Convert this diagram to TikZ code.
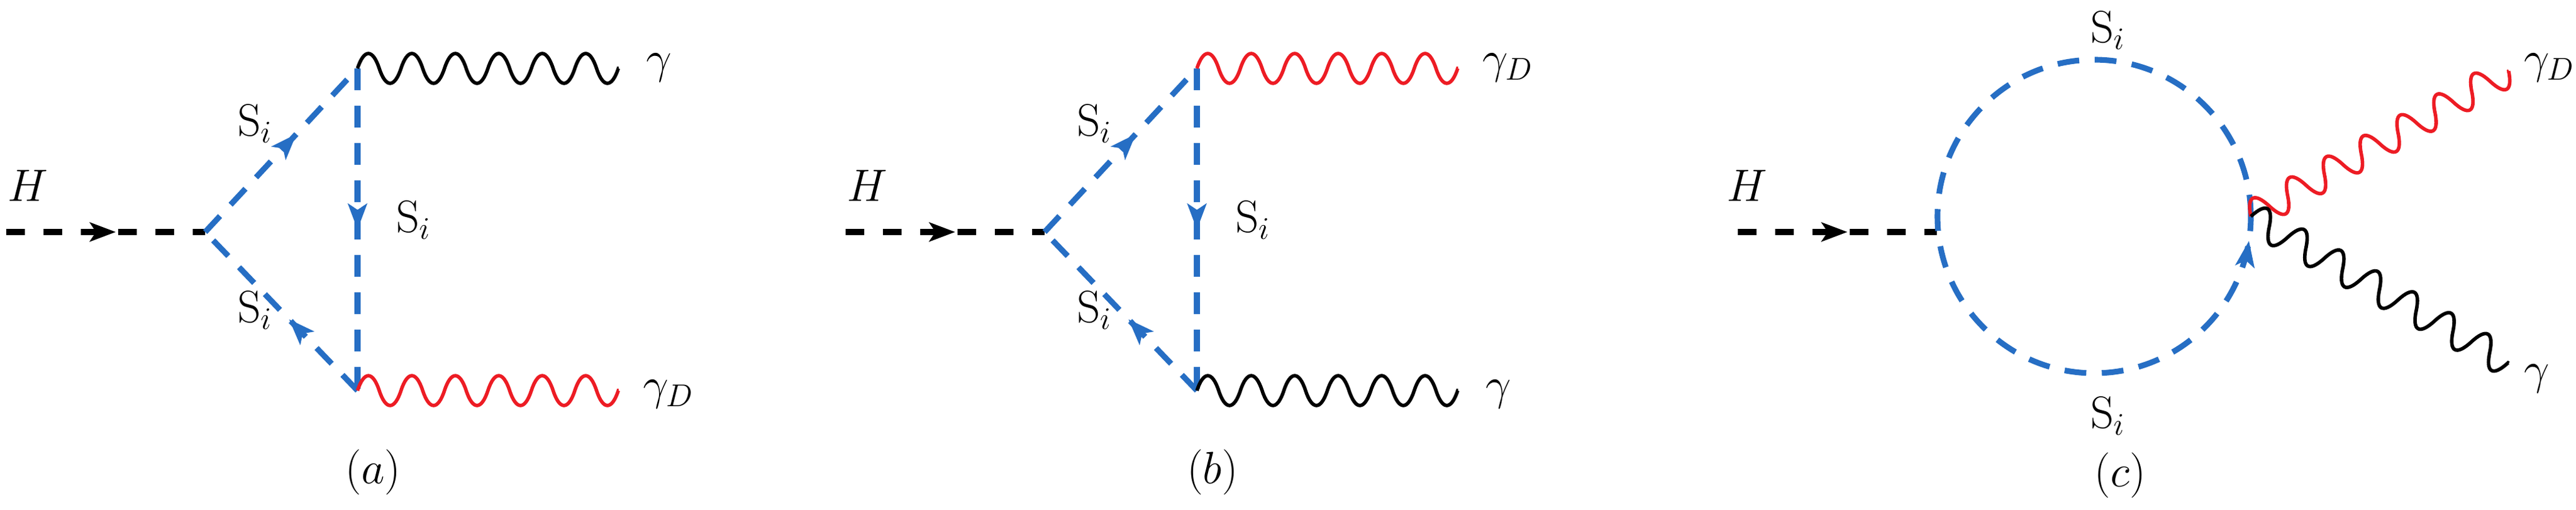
\documentclass[tikz,border=0pt]{standalone}
\usepackage{amsmath}
\usetikzlibrary{decorations.pathmorphing,decorations.markings,arrows.meta}
\definecolor{sblue}{RGB}{38,110,196}
\definecolor{dred}{RGB}{237,28,36}
% sine-like wave that ends on the path
\pgfdeclaredecoration{phwave}{up}{
  \state{up}[width=+.5\pgfdecorationsegmentlength, next state=down,
    switch if less than=+.5\pgfdecorationsegmentlength to final]{
    \pgfpathcurveto{\pgfqpoint{.15\pgfdecorationsegmentlength}{1.33\pgfdecorationsegmentamplitude}}
      {\pgfqpoint{.35\pgfdecorationsegmentlength}{1.33\pgfdecorationsegmentamplitude}}
      {\pgfqpoint{.5\pgfdecorationsegmentlength}{0pt}}
  }
  \state{down}[width=+.5\pgfdecorationsegmentlength, next state=up,
    switch if less than=+.5\pgfdecorationsegmentlength to final]{
    \pgfpathcurveto{\pgfqpoint{.15\pgfdecorationsegmentlength}{-1.33\pgfdecorationsegmentamplitude}}
      {\pgfqpoint{.35\pgfdecorationsegmentlength}{-1.33\pgfdecorationsegmentamplitude}}
      {\pgfqpoint{.5\pgfdecorationsegmentlength}{0pt}}
  }
  \state{final}{\pgfpathlineto{\pgfpointdecoratedpathlast}}
}
\begin{document}
\begin{tikzpicture}[>={Stealth[length=12pt,width=9pt,inset=3pt]},
	every node/.style={font=\fontsize{21}{25}\selectfont},
	higgs/.style={draw=black, line width=2.6pt, dash pattern=on 0.3cm off 0.3cm},
	scalar/.style={draw=sblue, line width=2.6pt, dash pattern=on 0.35cm off 0.25cm},
	photon/.style={line width=1.6pt, decorate, decoration={phwave, segment length=#1, amplitude=0.24cm}},
	photon/.default=0.699cm,
	arr/.style={postaction={decorate, decoration={markings, mark=at position #1 with {\arrow[line width=0.8pt]{>}}}}}]
	\useasboundingbox (0,0) rectangle (41.43,8.19);
	% panel (a)
	\coordinate (Ha) at (0.1,4.46);
	\coordinate (Va) at (3.3,4.46);
	\coordinate (Ta) at (5.75,7.09);
	\coordinate (Ba) at (5.75,1.91);
	\coordinate (Pa) at (9.95,7.09);
	\coordinate (Qa) at (9.95,1.91);
	\draw[higgs, arr=0.55] (Ha) -- (Va);
	\draw[scalar, arr=0.6] (Va) -- (Ta);
	\draw[scalar, arr=0.5] (Ta) -- (Ba);
	\draw[scalar, arr=0.45] (Ba) -- (Va);
	\draw[photon, black] (Ta) -- (Pa);
	\draw[photon, dred] (Ba) -- (Qa);
	\node (Hla) at (0.45,5.2) {$H$};
	\node (S1a) at (4.1,6.2) {$\mathrm{S}_i$};
	\node (S2a) at (6.65,4.65) {$\mathrm{S}_i$};
	\node (S3a) at (4.1,3.2) {$\mathrm{S}_i$};
	\node (ga) at (10.6,7.1) {$\gamma$};
	\node (gDa) at (10.75,1.85) {$\gamma_D$};
	\node (la) at (6.0,0.6) {$(a)$};
	% panel (b)
	\begin{scope}[xshift=13.5cm]
	\coordinate (Hb) at (0.1,4.46);
	\coordinate (Vb) at (3.3,4.46);
	\coordinate (Tb) at (5.75,7.09);
	\coordinate (Bb) at (5.75,1.91);
	\coordinate (Pb) at (9.95,7.09);
	\coordinate (Qb) at (9.95,1.91);
	\draw[higgs, arr=0.55] (Hb) -- (Vb);
	\draw[scalar, arr=0.6] (Vb) -- (Tb);
	\draw[scalar, arr=0.5] (Tb) -- (Bb);
	\draw[scalar, arr=0.45] (Bb) -- (Vb);
	\draw[photon, dred] (Tb) -- (Pb);
	\draw[photon, black] (Bb) -- (Qb);
	\node (Hlb) at (0.45,5.2) {$H$};
	\node (S1b) at (4.1,6.2) {$\mathrm{S}_i$};
	\node (S2b) at (6.65,4.65) {$\mathrm{S}_i$};
	\node (S3b) at (4.1,3.2) {$\mathrm{S}_i$};
	\node (gDb) at (10.75,7.1) {$\gamma_D$};
	\node (gb) at (10.6,1.85) {$\gamma$};
	\node (lb) at (6.0,0.6) {$(b)$};
	\end{scope}
	% panel (c)
	\coordinate (Hc) at (27.95,4.46);
	\coordinate (Lc) at (31.15,4.46);
	\coordinate (Oc) at (33.68,4.71);
	\coordinate (Rc) at (36.2,4.71);
	\coordinate (Pc) at (40.35,7.05);
	\coordinate (Qc) at (40.35,2.35);
	\draw[higgs, arr=0.55] (Hc) -- (Lc);
	\draw[scalar, arr=0.975] (Rc) arc[start angle=0, end angle=360, radius=2.52cm];
	\draw[photon=0.68cm, dred] (Rc) -- (Pc);
	\draw[photon=0.68cm, black] (Rc) -- (Qc);
	\node (Hlc) at (28.1,5.2) {$H$};
	\node (S1c) at (33.9,7.7) {$\mathrm{S}_i$};
	\node (S2c) at (33.9,1.5) {$\mathrm{S}_i$};
	\node (gDc) at (41.0,7.1) {$\gamma_D$};
	\node (gc) at (40.8,2.1) {$\gamma$};
	\node (lc) at (34.1,0.55) {$(c)$};
\end{tikzpicture}
\end{document}
